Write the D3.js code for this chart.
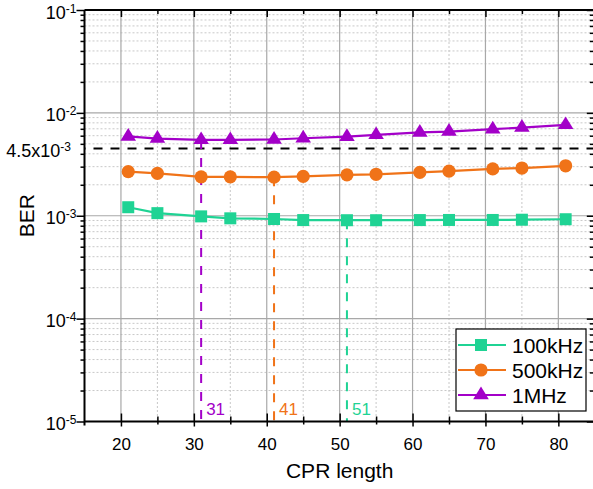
<!DOCTYPE html>
<html><head><meta charset="utf-8">
<script src="https://cdn.jsdelivr.net/npm/d3@7/dist/d3.min.js"></script>
<style>body{margin:0;background:#fff}svg{display:block}svg text{font-family:"Liberation Sans",Arial,sans-serif}</style>
</head><body>
<svg id="c" width="593" height="489"></svg>
<script>
const cprLength = [21,25,31,35,41,45,51,55,61,65,71,75,81];
const ber100k = [1.21e-3,1.06e-3,0.986e-3,0.944e-3,0.93e-3,0.908e-3,0.905e-3,0.905e-3,0.908e-3,0.91e-3,0.91e-3,0.915e-3,0.925e-3];
const ber500k = [2.68e-3,2.58e-3,2.39e-3,2.39e-3,2.37e-3,2.41e-3,2.5e-3,2.53e-3,2.64e-3,2.72e-3,2.85e-3,2.91e-3,3.06e-3];
const ber1M = [5.9e-3,5.63e-3,5.46e-3,5.46e-3,5.51e-3,5.67e-3,5.87e-3,6.11e-3,6.45e-3,6.58e-3,6.94e-3,7.19e-3,7.64e-3];
const seriesNames = ["100kHz","500kHz","1MHz"];
const seriesColors = ["#1fd394","#f07318","#a300c8"];
const seriesShapes = ["square","circle","triangle"];
const threshold = 4.5e-3;
const thresholdLabel = ["4.5x10","-3"];
const markLengths = [51,41,31];      // per series: 100kHz, 500kHz, 1MHz
const xMajorTicks = [20,30,40,50,60,70,80];
const xMinorTicks = [25,35,45,55,65,75];
const yMajorExps = [-5,-4,-3,-2,-1];

const svg = d3.select("#c");
const L = 84.5, R = 594.8, T = 10, B = 421.5;
const x = d3.scaleLinear().domain([15,85]).range([L,R]);
const y = d3.scaleLog().domain([1e-5,1e-1]).range([B,T]);

const yMajor = yMajorExps.map(e => Math.pow(10,e));
const yMinor = [];
for (let e=-5;e<-1;e++) for (let k=2;k<=9;k++) yMinor.push(k*Math.pow(10,e));

// grids
const g = svg.append("g");
g.selectAll(".ymg").data(yMinor).join("line")
  .attr("x1",L).attr("x2",R).attr("y1",d=>y(d)).attr("y2",d=>y(d))
  .attr("stroke","#c8c8c8").attr("stroke-width",1).attr("stroke-dasharray","2,2");
g.selectAll(".xmg").data(xMinorTicks).join("line")
  .attr("x1",d=>x(d)).attr("x2",d=>x(d)).attr("y1",T).attr("y2",B)
  .attr("stroke","#c8c8c8").attr("stroke-width",1).attr("stroke-dasharray","2,2");
g.selectAll(".yMg").data(yMajor).join("line")
  .attr("x1",L).attr("x2",R).attr("y1",d=>y(d)).attr("y2",d=>y(d))
  .attr("stroke","#a8a8a8").attr("stroke-width",1.2);
g.selectAll(".xMg").data(xMajorTicks).join("line")
  .attr("x1",d=>x(d)).attr("x2",d=>x(d)).attr("y1",T).attr("y2",B)
  .attr("stroke","#a8a8a8").attr("stroke-width",1.2);

// threshold line
svg.append("line").attr("x1",L).attr("x2",R).attr("y1",y(threshold)).attr("y2",y(threshold))
  .attr("stroke","#000").attr("stroke-width",2).attr("stroke-dasharray","9,8").attr("stroke-dashoffset",-9);
const tl = svg.append("text").attr("x",71).attr("y",y(threshold)+8.5).attr("text-anchor","end")
  .attr("font-size",18).attr("fill","#000");
tl.append("tspan").text(thresholdLabel[0]);
tl.append("tspan").attr("font-size",12).attr("dy",-6).text(thresholdLabel[1]);

const allSeries = [ber100k, ber500k, ber1M];

// vertical markers
allSeries.forEach((s,i)=>{
  const xv = markLengths[i];
  const idx = cprLength.indexOf(xv);
  svg.append("line").attr("x1",x(xv)).attr("x2",x(xv)).attr("y1",y(s[idx])).attr("y2",B)
    .attr("stroke",seriesColors[i]).attr("stroke-width",2).attr("stroke-dasharray","9,9");
  svg.append("text").attr("x",x(xv)+5).attr("y",415).attr("font-size",17)
    .attr("fill",seriesColors[i]).text(xv);
});

function marker(sel, shape, color){
  if (shape==="square") sel.append("rect").attr("x",-6).attr("y",-6).attr("width",12).attr("height",12).attr("fill",color);
  else if (shape==="circle") sel.append("circle").attr("r",6.6).attr("fill",color);
  else sel.append("path").attr("d","M0,-8.5L7.8,4.2L-7.8,4.2Z").attr("fill",color);
}

const line = d3.line().x((d,i)=>x(cprLength[i])).y(d=>y(d));
allSeries.forEach((s,i)=>{
  svg.append("path").attr("d",line(s)).attr("fill","none").attr("stroke",seriesColors[i]).attr("stroke-width",2.2);
  s.forEach((v,j)=>{
    const m = svg.append("g").attr("transform",`translate(${x(cprLength[j])},${y(v)})`);
    marker(m, seriesShapes[i], seriesColors[i]);
  });
});

// axes
const axStyle = a => { a.select(".domain").remove(); a.selectAll("line").attr("stroke","#000").attr("stroke-width",1.5); };
// bottom
const bx = svg.append("g").attr("transform",`translate(0,${B})`)
  .call(d3.axisBottom(x).tickValues(xMajorTicks).tickSize(5).tickPadding(11).tickFormat(d3.format("d")));
axStyle(bx); bx.selectAll("text").attr("font-size",17).attr("fill","#000");
bx.selectAll(".tick line").attr("y1",-8);
const bxm = svg.append("g").attr("transform",`translate(0,${B})`)
  .call(d3.axisBottom(x).tickValues(xMinorTicks).tickSize(3).tickFormat(""));
axStyle(bxm); bxm.selectAll(".tick line").attr("y1",-5);
// top
const tx = svg.append("g").attr("transform",`translate(0,${T})`)
  .call(d3.axisBottom(x).tickValues(xMajorTicks).tickSize(7).tickFormat(""));
axStyle(tx);
const txm = svg.append("g").attr("transform",`translate(0,${T})`)
  .call(d3.axisBottom(x).tickValues(xMinorTicks).tickSize(4).tickFormat(""));
axStyle(txm);
// left
const ly = svg.append("g").attr("transform",`translate(${L},0)`)
  .call(d3.axisLeft(y).tickValues(yMajor).tickSize(8).tickFormat(""));
axStyle(ly);
ly.selectAll(".tick").append("text").attr("x",-8).attr("y",8).attr("text-anchor","end")
  .attr("font-size",18).attr("fill","#000")
  .each(function(d){
    const t = d3.select(this);
    t.append("tspan").text("10");
    t.append("tspan").attr("font-size",12).attr("dy",-6).text(Math.round(Math.log10(d)));
  });
const lym = svg.append("g").attr("transform",`translate(${L},0)`)
  .call(d3.axisLeft(y).tickValues(yMinor).tickSize(4).tickFormat(""));
axStyle(lym);
// right (inward)
const ry = svg.append("g").attr("transform",`translate(${R},0)`)
  .call(d3.axisLeft(y).tickValues(yMajor).tickSize(8).tickFormat(""));
axStyle(ry);
const rym = svg.append("g").attr("transform",`translate(${R},0)`)
  .call(d3.axisLeft(y).tickValues(yMinor).tickSize(5).tickFormat(""));
axStyle(rym);

// frame
svg.append("line").attr("x1",L).attr("x2",L).attr("y1",T).attr("y2",B+4).attr("stroke","#000").attr("stroke-width",2);
svg.append("line").attr("x1",L).attr("x2",R).attr("y1",B).attr("y2",B).attr("stroke","#000").attr("stroke-width",2);
svg.append("line").attr("x1",L).attr("x2",R).attr("y1",T).attr("y2",T).attr("stroke","#000").attr("stroke-width",2);
svg.append("line").attr("x1",R).attr("x2",R).attr("y1",T).attr("y2",B).attr("stroke","#000").attr("stroke-width",2);

// axis titles
svg.append("text").attr("x",(L+R)/2).attr("y",478).attr("text-anchor","middle").attr("font-size",21).text("CPR length");
svg.append("text").attr("transform",`translate(34,${(T+B)/2}) rotate(-90)`).attr("text-anchor","middle").attr("font-size",21).text("BER");

// legend
const lg = svg.append("g").attr("transform","translate(456,329)");
lg.append("rect").attr("width",130).attr("height",82).attr("fill","#fff").attr("stroke","#000").attr("stroke-width",1.2);
seriesNames.forEach((n,i)=>{
  const yy = 16 + i*25;
  lg.append("line").attr("x1",2).attr("x2",50).attr("y1",yy).attr("y2",yy).attr("stroke",seriesColors[i]).attr("stroke-width",2.2);
  const m = lg.append("g").attr("transform",`translate(25,${yy})`);
  marker(m, seriesShapes[i], seriesColors[i]);
  lg.append("text").attr("x",56).attr("y",yy+7.5).attr("font-size",21).text(n);
});
</script>
</body></html>
